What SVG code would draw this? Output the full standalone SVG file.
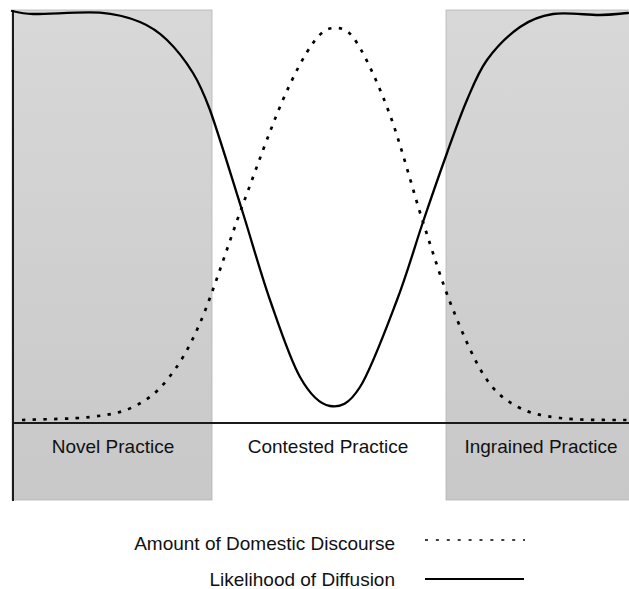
<svg xmlns="http://www.w3.org/2000/svg" width="629" height="589" viewBox="0 0 629 589">
  <defs>
    <linearGradient id="shade" x1="0" y1="0" x2="0" y2="1">
      <stop offset="0" stop-color="#d8d8d8"/>
      <stop offset="1" stop-color="#c8c8c8"/>
    </linearGradient>
  </defs>
  <style>
    .band { fill: url(#shade); stroke: #b4b4b4; stroke-width: 0.8; }
    .label { font-family: "Liberation Sans", Arial, sans-serif; font-size: 19px; fill: #111; }
    .axis { fill: none; stroke: #1a1a1a; stroke-width: 2; }
    .diffusion { fill: none; stroke: #000; stroke-width: 2.3; stroke-linecap: round; stroke-linejoin: round; }
    .discourse { fill: none; stroke: #000; stroke-width: 2.7; stroke-dasharray: 3.4 7.3; }
    .legend-dots { fill: none; stroke: #000; stroke-width: 1.7; stroke-dasharray: 3 7.9; }
    .legend-line { fill: none; stroke: #000; stroke-width: 2; }
  </style>
  <rect width="629" height="589" fill="#fff"/>

  <!-- practice phases -->
  <g id="novel-practice">
    <rect class="band" x="12" y="10" width="200" height="490"/>
    <text class="label" x="113" y="453" text-anchor="middle">Novel Practice</text>
  </g>
  <g id="contested-practice">
    <text class="label" x="328" y="453" text-anchor="middle">Contested Practice</text>
  </g>
  <g id="ingrained-practice">
    <rect class="band" x="446" y="10" width="184" height="490"/>
    <text class="label" x="541" y="453" text-anchor="middle">Ingrained Practice</text>
  </g>

  <!-- axes -->
  <g id="axes">
    <line class="axis" x1="13" y1="10" x2="13" y2="501"/>
    <line class="axis" x1="12" y1="423" x2="629" y2="423"/>
  </g>

  <!-- curves -->
  <g id="connectors">
    <path id="domestic-discourse" class="discourse" d="M22,420 C44.7,419 71.5,419.2 90,417 C108.5,414.8 120.2,413.2 133,407 C145.8,400.8 155.8,394 167,380 C178.2,366 187.5,351.8 200,323 C212.5,294.2 228.3,243.8 242,207 C255.7,170.2 270.2,129.3 282,102 C293.8,74.7 304.2,55.3 313,43 C321.8,30.7 327.7,28 335,28 C342.3,28 347.8,28.5 357,43 C366.2,57.5 379,85.2 390,115 C401,144.8 412.7,190 423,222 C433.3,254 441.7,281.2 452,307 C462.3,332.8 474,360.3 485,377 C496,393.7 505.5,400.2 518,407 C530.5,413.8 541.8,415.8 560,418 C578.2,420.2 604.7,420 627,420"/>
    <path id="diffusion-likelihood" class="diffusion" d="M12,11 C18,12.5 25,14 33,14 C47.7,14.3 82.5,11.4 100,12.7 C117.5,14 128.8,17.45 140,22 C151.2,26.6 158.2,31.5 167,40 C175.8,48.5 185.8,61.3 193,73 C200.2,84.7 204,94 210,110 C218.2,132.8 232,178.3 242,210 C252,241.7 260.3,272.2 270,300 C279.7,327.8 290,359.3 300,377 C310,394.7 320,404.3 330,406 C340,407.7 348.8,404.7 360,387 C371.2,369.3 386.5,327.5 397,300 C407.5,272.5 414.7,246.5 423,222 C431.3,197.5 439.7,173.3 447,153 C454.3,132.7 460.3,115.5 467,100 C473.7,84.5 478.2,72.2 487,60 C495.8,47.8 509,34.7 520,27 C531,19.3 539.7,16 553,14 C566.3,12 587.5,15.2 600,15 C612.5,14.8 618.7,13.7 628,13"/>
  </g>

  <!-- legend -->
  <g id="legend">
    <text class="label" x="395" y="550" text-anchor="end">Amount of Domestic Discourse</text>
    <line class="legend-dots" x1="425" y1="540" x2="525" y2="540"/>
    <text class="label" x="395" y="586" text-anchor="end">Likelihood of Diffusion</text>
    <line class="legend-line" x1="425" y1="579" x2="524" y2="579"/>
  </g>
</svg>
